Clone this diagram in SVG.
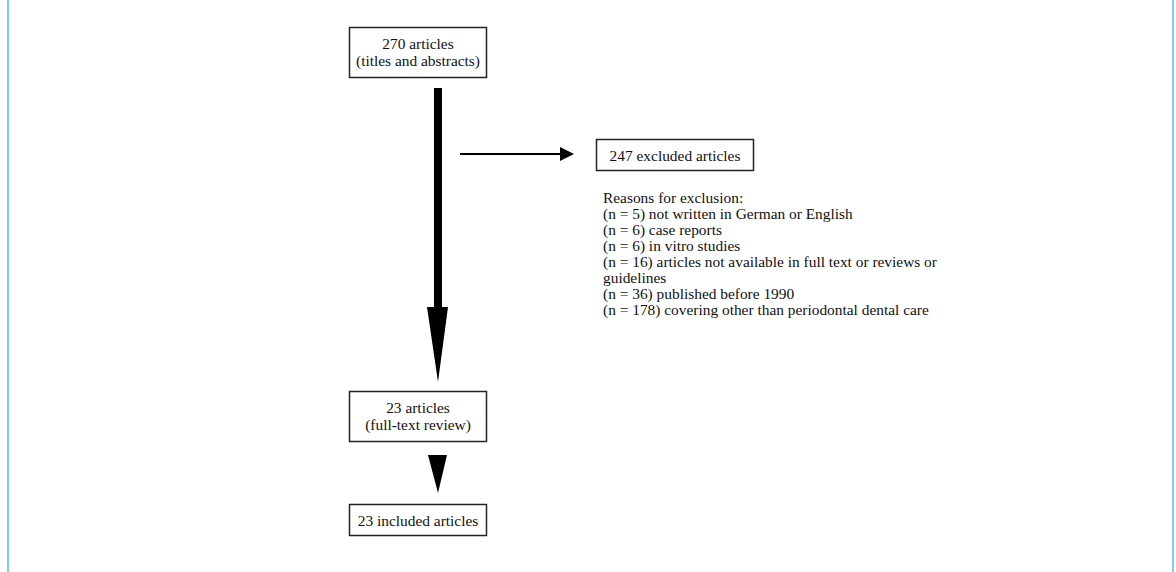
<svg xmlns="http://www.w3.org/2000/svg" width="1176" height="572" viewBox="0 0 1176 572">
<style>
.box{fill:#fff;stroke:#222;stroke-width:1.5}
.t{font-family:"Liberation Serif","Times New Roman",serif;font-size:15.4px;fill:#111}
.c{text-anchor:middle}
</style>
<rect width="1176" height="572" fill="#fff"/>
<line x1="8" y1="0" x2="8" y2="572" stroke="#4cc3e0" stroke-width="1.5"/>
<line x1="1173" y1="0" x2="1173" y2="572" stroke="#4cc3e0" stroke-width="1.5"/>
<g id="connectors">
<rect x="434" y="88" width="8" height="220" fill="#000"/>
<polygon points="427,307 448,307 438,382" fill="#000"/>
<polygon points="428,455 447,455 438,493" fill="#000"/>
<line x1="460" y1="154" x2="562" y2="154" stroke="#000" stroke-width="2"/>
<polygon points="560,147 574,154 560,161" fill="#000"/>
</g>
<g id="n1">
<rect class="box" x="349.5" y="27.5" width="137" height="50"/>
<text class="t c" x="418" y="49">270 articles</text>
<text class="t c" x="418" y="66">(titles and abstracts)</text>
</g>
<g id="n2">
<rect class="box" x="596.5" y="139.5" width="157" height="31"/>
<text class="t c" x="675" y="161">247 excluded articles</text>
</g>
<g id="n3">
<text class="t" x="603" y="203">Reasons for exclusion:</text>
<text class="t" x="603" y="219">(n = 5) not written in German or English</text>
<text class="t" x="603" y="235">(n = 6) case reports</text>
<text class="t" x="603" y="251">(n = 6) in vitro studies</text>
<text class="t" x="603" y="267">(n = 16) articles not available in full text or reviews or</text>
<text class="t" x="603" y="283">guidelines</text>
<text class="t" x="603" y="299">(n = 36) published before 1990</text>
<text class="t" x="603" y="315">(n = 178) covering other than periodontal dental care</text>
</g>
<g id="n4">
<rect class="box" x="349.5" y="391.5" width="137" height="50"/>
<text class="t c" x="418" y="413">23 articles</text>
<text class="t c" x="418" y="430">(full-text review)</text>
</g>
<g id="n5">
<rect class="box" x="349.5" y="504.5" width="137" height="31"/>
<text class="t c" x="418" y="526">23 included articles</text>
</g>
</svg>
